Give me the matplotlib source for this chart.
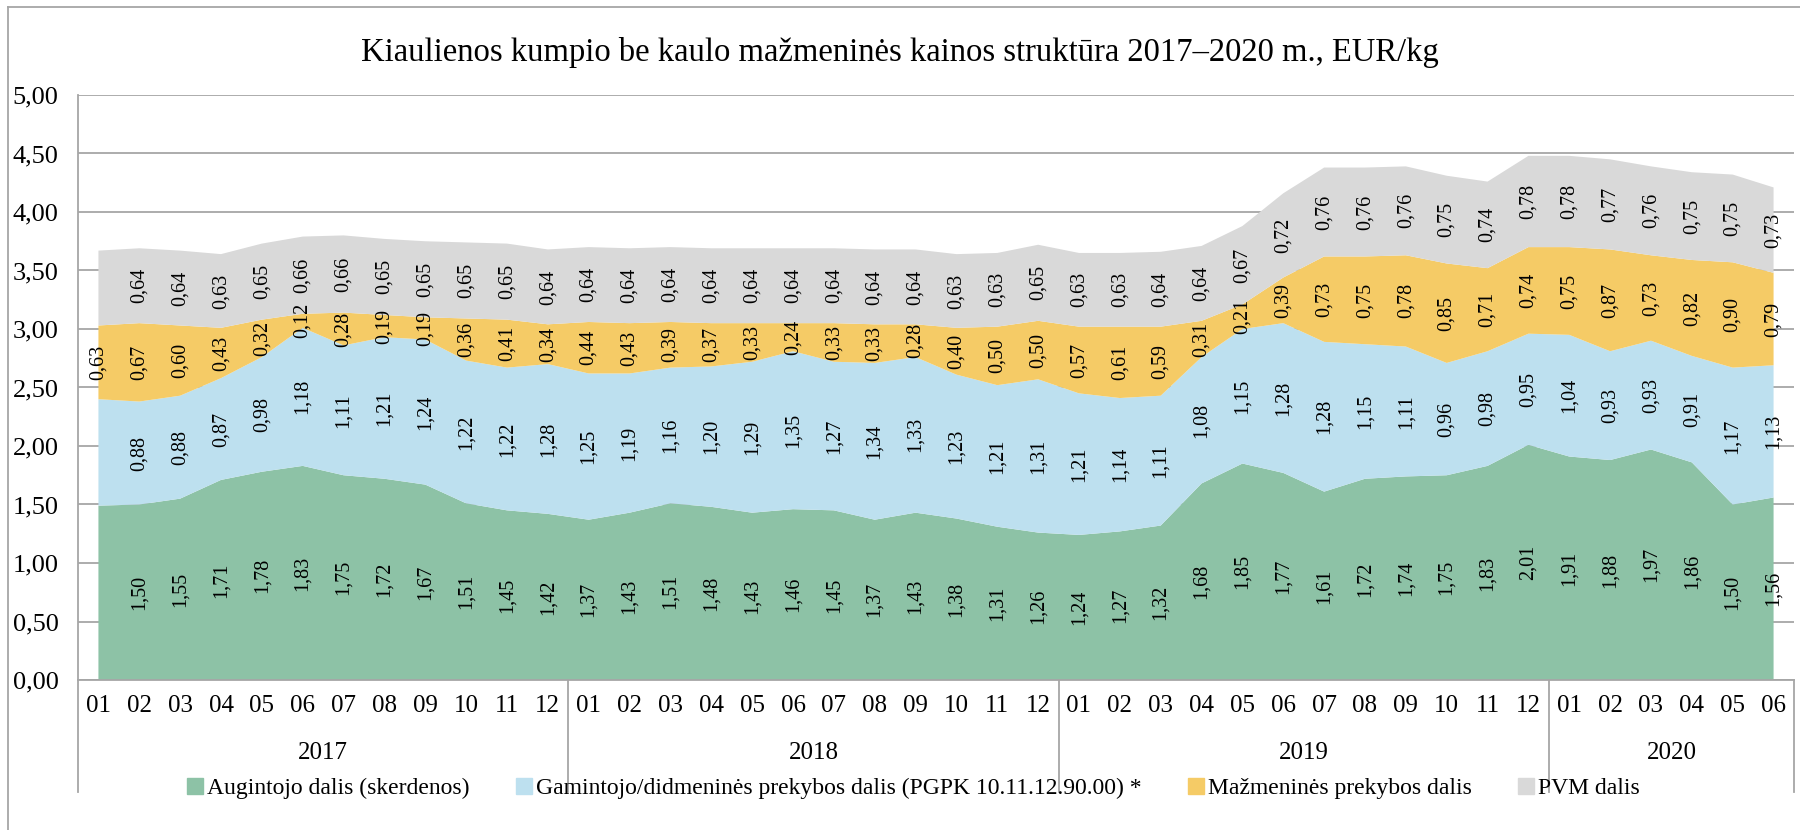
import matplotlib.pyplot as plt
from matplotlib.lines import Line2D
import numpy as np

plt.rcParams['font.family'] = ['Liberation Serif', 'DejaVu Serif']

months = ['01', '02', '03', '04', '05', '06', '07', '08', '09', '10', '11', '12'] * 3 + \
         ['01', '02', '03', '04', '05', '06']
years = ['2017', '2018', '2019', '2020']
year_len = [12, 12, 12, 6]

augintojo = [1.49, 1.50, 1.55, 1.71, 1.78, 1.83, 1.75, 1.72, 1.67, 1.51, 1.45, 1.42,
             1.37, 1.43, 1.51, 1.48, 1.43, 1.46, 1.45, 1.37, 1.43, 1.38, 1.31, 1.26,
             1.24, 1.27, 1.32, 1.68, 1.85, 1.77, 1.61, 1.72, 1.74, 1.75, 1.83, 2.01,
             1.91, 1.88, 1.97, 1.86, 1.50, 1.56]
gamintojo = [0.91, 0.88, 0.88, 0.87, 0.98, 1.18, 1.11, 1.21, 1.24, 1.22, 1.22, 1.28,
             1.25, 1.19, 1.16, 1.20, 1.29, 1.35, 1.27, 1.34, 1.33, 1.23, 1.21, 1.31,
             1.21, 1.14, 1.11, 1.08, 1.15, 1.28, 1.28, 1.15, 1.11, 0.96, 0.98, 0.95,
             1.04, 0.93, 0.93, 0.91, 1.17, 1.13]
mazmenine = [0.63, 0.67, 0.60, 0.43, 0.32, 0.12, 0.28, 0.19, 0.19, 0.36, 0.41, 0.34,
             0.44, 0.43, 0.39, 0.37, 0.33, 0.24, 0.33, 0.33, 0.28, 0.40, 0.50, 0.50,
             0.57, 0.61, 0.59, 0.31, 0.21, 0.39, 0.73, 0.75, 0.78, 0.85, 0.71, 0.74,
             0.75, 0.87, 0.73, 0.82, 0.90, 0.79]
pvm = [0.64, 0.64, 0.64, 0.63, 0.65, 0.66, 0.66, 0.65, 0.65, 0.65, 0.65, 0.64,
       0.64, 0.64, 0.64, 0.64, 0.64, 0.64, 0.64, 0.64, 0.64, 0.63, 0.63, 0.65,
       0.63, 0.63, 0.64, 0.64, 0.67, 0.72, 0.76, 0.76, 0.76, 0.75, 0.74, 0.78,
       0.78, 0.77, 0.76, 0.75, 0.75, 0.73]

series = [augintojo, gamintojo, mazmenine, pvm]
names = ['Augintojo dalis (skerdenos)',
         'Gamintojo/didmeninės prekybos dalis (PGPK 10.11.12.90.00) *',
         'Mažmeninės prekybos dalis', 'PVM dalis']
colors = ['#8dc2a6', '#bde0ef', '#f5cb66', '#d9d9d9']
# first month of these series has no label in the original
skip_first = [True, True, False, True]

fig = plt.figure(figsize=(18, 8.3), dpi=100)
ax = fig.add_axes([78 / 1800, 150 / 830, 1716 / 1800, 585 / 830])

x = np.arange(len(months))
data = np.array(series)
ax.stackplot(x, data, colors=colors, linewidth=0, zorder=2)

base = np.zeros(len(x))
for vals, skip in zip(data, skip_first):
    for i, v in enumerate(vals):
        if skip and i == 0:
            continue
        ax.text(i, base[i] + v / 2, f'{v:.2f}'.replace('.', ','), rotation=90,
                ha='center', va='center', fontsize=14.5, zorder=4)
    base += vals

ax.set_xlim(-0.5, len(x) - 0.5)
ax.set_ylim(0, 5)
ax.set_yticks(np.arange(0, 5.01, 0.5))
ax.set_yticklabels([f'{v:.2f}'.replace('.', ',') for v in np.arange(0, 5.01, 0.5)], fontsize=19)
ax.yaxis.grid(True, color='#a6a6a6', linewidth=1.3, zorder=0)
ax.set_axisbelow(True)
ax.tick_params(axis='y', length=0, pad=14)

ax.set_xticks(x)
ax.set_xticklabels(months, fontsize=18)
ax.tick_params(axis='x', length=0, pad=11)

for s in ['top', 'right']:
    ax.spines[s].set_visible(False)
for s in ['left', 'bottom']:
    ax.spines[s].set_color('#a6a6a6')
    ax.spines[s].set_linewidth(1.3)

# year separators and labels
sep_bottom = -(792 - 680) / 585
edges = [-0.5]
for n in year_len:
    edges.append(edges[-1] + n)
trans = ax.get_xaxis_transform()
for e in edges:
    ax.plot([e, e], [0, sep_bottom], color='#a6a6a6', linewidth=1.3,
            transform=trans, clip_on=False)
for yr, a, b in zip(years, edges[:-1], edges[1:]):
    ax.text((a + b) / 2, -(753 - 680) / 585, yr, transform=trans,
            ha='center', va='center', fontsize=18)

fig.text(0.5, 1 - 52 / 830,
         'Kiaulienos kumpio be kaulo mažmeninės kainos struktūra 2017–2020 m., EUR/kg',
         ha='center', va='center', fontsize=23.5)

handles = [Line2D([], [], marker='s', linestyle='none', markersize=12,
                  markerfacecolor=c, markeredgecolor=c) for c in colors]
fig.legend(handles, names, loc='center', bbox_to_anchor=(0.507, 1 - 788 / 830),
           ncol=4, frameon=False, fontsize=17, handletextpad=0.1,
           columnspacing=1.9, handlelength=0.8)

# chart border
fig.add_artist(Line2D([8 / 1800, 8 / 1800], [0, 1 - 7 / 830], color='#a6a6a6',
                      linewidth=1.3, transform=fig.transFigure))
fig.add_artist(Line2D([8 / 1800, 1], [1 - 7 / 830, 1 - 7 / 830], color='#a6a6a6',
                      linewidth=1.3, transform=fig.transFigure))

fig.savefig('out.png', dpi=100)
